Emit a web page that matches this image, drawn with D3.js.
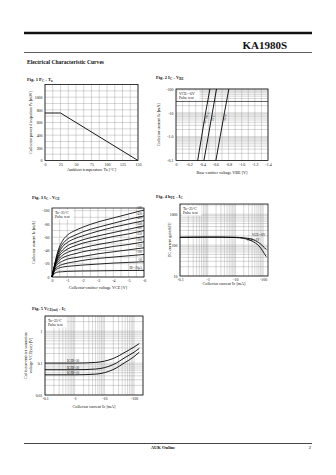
<!DOCTYPE html>
<html><head><meta charset="utf-8">
<script src="https://cdn.jsdelivr.net/npm/d3@7"></script>
<style>
html,body{margin:0;padding:0;background:#fff;}
svg text{font-family:"Liberation Serif","Times New Roman",serif;fill:#111;}
</style></head>
<body><svg id="page" width="336" height="475"></svg>
<script>
// ---- Fig.1 Pc - Ta (derating) ----
const tempTicks = [0, 25, 50, 75, 100, 125, 150];
const pcTicks = [0, 200, 400, 600, 800, 1000];
const pcCurve = [[0, 750], [25, 750], [150, 0]];

// ---- Fig.2 Ic - Vbe ----
const vbeTicks = [0, 0.2, 0.4, 0.6, 0.8, 1.0, 1.2, 1.4];
const vbeTickLabels = ["0", "-0.2", "-0.4", "-0.6", "-0.8", "-1.0", "-1.2", "-1.4"];
const icLogTicks = [0.1, 1, 10, 100];
const icLogLabels = ["-0.1", "-1.0", "-10", "-100"];
const vbeSeriesNames = ["Ta=100°C", "25°C", "-25°C"];
const vbeCurrents = [0.1, 1, 10, 100];
const vbeSeries = [
  [0.33, 0.39, 0.45, 0.516],
  [0.425, 0.49, 0.553, 0.617],
  [0.607, 0.672, 0.737, 0.804]
];

// ---- Fig.3 Ic - Vce ----
const vceTicks = [0, 1, 2, 3, 4, 5, 6];
const vceTickLabels = ["0", "-1", "-2", "-3", "-4", "-5", "-6"];
const icLinTicks = [0, 20, 40, 60, 80, 100];
const icLinLabels = ["0", "-20", "-40", "-60", "-80", "-100"];
const vceSteps = [0, 0.2, 0.4, 0.7, 1, 1.5, 2, 3, 4, 5, 6];
const ibNames = ["-500", "-450", "-400", "-350", "-300", "-250", "-200", "-150", "-100", "-50", "IB=-20μA"];
const vceSeries = [
  [0, 22, 40, 55, 63, 70, 75, 83, 89, 95, 101],
  [0, 21, 37, 50, 57, 63, 68, 75, 81, 87, 92],
  [0, 20, 34, 46, 52, 58, 62, 69, 75, 80, 85],
  [0, 19, 31, 41, 47, 52, 56, 62, 67, 72, 77],
  [0, 18, 29, 37, 42, 47, 51, 56, 61, 65, 70],
  [0, 17, 26, 33, 37, 41, 44, 49, 53, 57, 61],
  [0, 16, 23, 29, 32, 35, 38, 42, 46, 49, 53],
  [0, 14, 20, 24, 27, 29, 31, 35, 38, 41, 44],
  [0, 12, 16, 19, 21, 23, 25, 28, 30, 32, 34],
  [0, 10, 13, 15, 16, 17, 18, 19.5, 21, 22, 23],
  [0, 6, 7.5, 8, 8.5, 8.8, 9, 9.3, 9.6, 9.8, 10]
];

// ---- Fig.4 hFE - Ic ----
const icTicksA = [0.1, 1, 10, 100];
const icLabelsA = ["-0.1", "-1", "-10", "-100"];
const hfeTicks = [10, 100, 1000];
const hfeNames = ["VCE=-6V", "VCE=-1V"];
const hfeIc = [0.1, 0.3, 1, 3, 10, 20, 40, 70, 130];
const hfeSeries = [
  [180, 182, 183, 183, 180, 172, 155, 120, 72],
  [178, 179, 180, 180, 176, 165, 135, 95, 42]
];

// ---- Fig.5 Vce(sat) - Ic ----
const satTicks = [0.01, 0.1, 1];
const satLabels = ["0.01", "0.1", "1"];
const satNames = ["IC/IB=50", "IC/IB=20", "IC/IB=10"];
const satIc = [0.1, 1, 5, 10, 20, 50, 100, 150];
const satSeries = [
  [0.1, 0.1, 0.105, 0.115, 0.14, 0.22, 0.32, 0.41],
  [0.062, 0.062, 0.065, 0.072, 0.09, 0.15, 0.22, 0.29],
  [0.043, 0.043, 0.045, 0.05, 0.063, 0.105, 0.16, 0.22]
];

const svg = d3.select("#page");
svg.append("rect").attr("width", 336).attr("height", 475).attr("fill", "#fff");

// page header / footer
svg.append("line").attr("x1", 24).attr("x2", 312).attr("y1", 33).attr("y2", 33)
  .attr("stroke", "#111").attr("stroke-width", 2.6);
svg.append("text").attr("x", 287).attr("y", 48.5).attr("text-anchor", "end")
  .attr("font-size", 11).attr("font-weight", "bold").text("KA1980S");
svg.append("line").attr("x1", 24).attr("x2", 312).attr("y1", 52.5).attr("y2", 52.5)
  .attr("stroke", "#333").attr("stroke-width", 0.8);
svg.append("text").attr("x", 27).attr("y", 64).attr("font-size", 5.6).attr("font-weight", "bold")
  .text("Electrical Characteristic Curves");
svg.append("line").attr("x1", 24).attr("x2", 312).attr("y1", 443.5).attr("y2", 443.5)
  .attr("stroke", "#333").attr("stroke-width", 0.9);
svg.append("text").attr("x", 163).attr("y", 449).attr("text-anchor", "middle")
  .attr("font-size", 4.6).attr("font-weight", "bold").text("AUK Online");
svg.append("text").attr("x", 311).attr("y", 449).attr("text-anchor", "end")
  .attr("font-size", 4.6).text("2");

const GRID = "#8a8a8a";

function panel(o) {
  const g = svg.append("g");
  const x = o.x, y = o.y;
  // grid
  o.vgrid.forEach(v => g.append("line").attr("x1", x(v)).attr("x2", x(v))
    .attr("y1", y.range()[0]).attr("y2", y.range()[1]).attr("stroke", GRID).attr("stroke-width", 0.35));
  o.hgrid.forEach(v => g.append("line").attr("y1", y(v)).attr("y2", y(v))
    .attr("x1", x.range()[0]).attr("x2", x.range()[1]).attr("stroke", GRID).attr("stroke-width", 0.35));
  // frame
  g.append("rect").attr("x", x.range()[0]).attr("y", y.range()[1])
    .attr("width", x.range()[1] - x.range()[0]).attr("height", y.range()[0] - y.range()[1])
    .attr("fill", "none").attr("stroke", "#111").attr("stroke-width", 0.8);
  // tick labels
  const xa = d3.axisBottom(x).tickValues(o.xticks).tickFormat((d, i) => o.xlabels[i]).tickSize(0).tickPadding(2.5);
  g.append("g").attr("transform", `translate(0,${y.range()[0]})`).call(xa)
    .call(s => s.select(".domain").remove())
    .selectAll("text").attr("font-size", 3.9).attr("font-family", "Liberation Serif");
  const ya = d3.axisLeft(y).tickValues(o.yticks).tickFormat((d, i) => o.ylabels[i]).tickSize(0).tickPadding(2.5);
  g.append("g").attr("transform", `translate(${x.range()[0]},0)`).call(ya)
    .call(s => s.select(".domain").remove())
    .selectAll("text").attr("font-size", 3.9).attr("font-family", "Liberation Serif");
  // titles
  g.append("text").attr("x", o.title[0]).attr("y", o.title[1]).attr("font-size", 4.6)
    .attr("font-weight", "bold").html(o.title[2]);
  g.append("text").attr("x", (x.range()[0] + x.range()[1]) / 2).attr("y", o.xtitleY)
    .attr("text-anchor", "middle").attr("font-size", 4.2).html(o.xtitle);
  o.ytitle.forEach((t, i) => {
    const cx = o.ytitleX + i * 5, cy = (y.range()[0] + y.range()[1]) / 2;
    g.append("text").attr("transform", `translate(${cx},${cy}) rotate(-90)`)
      .attr("text-anchor", "middle").attr("font-size", 4.2).html(t);
  });
  if (o.legend) {
    const lx = x.range()[0] + 1.5, ly = y.range()[1] + 1.5;
    g.append("rect").attr("x", lx).attr("y", ly).attr("width", o.legend.w).attr("height", 10)
      .attr("fill", "#fff").attr("stroke", "none");
    o.legend.lines.forEach((t, i) => g.append("text").attr("x", lx + 1.5).attr("y", ly + 4 + i * 4.5)
      .attr("font-size", 3.8).html(t));
  }
  return g;
}

function range(a, b, s) { const r = []; for (let v = a; v <= b + 1e-9; v += s) r.push(+v.toFixed(6)); return r; }
function logGrid(lo, hi) {
  const r = [];
  for (let e = Math.floor(Math.log10(lo)); e <= Math.ceil(Math.log10(hi)); e++)
    for (let m = 1; m < 10; m++) { const v = m * Math.pow(10, e); if (v >= lo * 0.999 && v <= hi * 1.001) r.push(v); }
  return r;
}

// Fig.1
{
  const x = d3.scaleLinear().domain([0, 150]).range([45, 138]);
  const y = d3.scaleLinear().domain([0, 1200]).range([160.5, 84.5]);
  const g = panel({x, y, vgrid: range(0, 150, 12.5), hgrid: range(0, 1200, 100),
    xticks: tempTicks, xlabels: tempTicks.map(String), yticks: pcTicks, ylabels: pcTicks.map(String),
    title: [27, 81, "Fig. 1 P<tspan font-size='3.2' dy='1'>C</tspan><tspan dy='-1'> - T</tspan><tspan font-size='3.2' dy='1'>a</tspan>"],
    xtitle: "Ambient temperature  Ta [°C]", xtitleY: 170.5,
    ytitle: ["Collector power dissipation  Pc [mW]"], ytitleX: 32});
  g.append("path").datum(pcCurve).attr("fill", "none").attr("stroke", "#000").attr("stroke-width", 0.9)
    .attr("d", d3.line().x(d => x(d[0])).y(d => y(d[1])));
}

// Fig.2
{
  const x = d3.scaleLinear().domain([0, 1.4]).range([176, 268]);
  const y = d3.scaleLog().domain([0.1, 100]).range([160.5, 89]);
  const g = panel({x, y, vgrid: range(0, 1.4, 0.1), hgrid: logGrid(0.1, 100),
    xticks: vbeTicks, xlabels: vbeTickLabels, yticks: icLogTicks, ylabels: icLogLabels,
    title: [156, 79, "Fig. 2 I<tspan font-size='3.2' dy='1'>C</tspan><tspan dy='-1'> - V</tspan><tspan font-size='3.2' dy='1'>BE</tspan>"],
    xtitle: "Base-emitter voltage  VBE [V]", xtitleY: 174,
    ytitle: ["Collector current  Ic [mA]"], ytitleX: 160,
    legend: {w: 22, lines: ["VCE=-6V", "Pulse test"]}});
  g.append("line").attr("x1", 176).attr("x2", 268).attr("y1", y(30)).attr("y2", y(30))
    .attr("stroke", "#111").attr("stroke-width", 0.6);
  vbeSeries.forEach((s, k) => {
    const pts = s.map((v, i) => [v, vbeCurrents[i]]);
    g.append("path").datum(pts).attr("fill", "none").attr("stroke", "#000").attr("stroke-width", 0.9)
      .attr("d", d3.line().x(d => x(d[0])).y(d => y(d[1])));
    const px = x(d3.quantile(s, 0.6)) + 2.5, py = y(6);
    g.append("text").attr("transform", `translate(${px},${py}) rotate(-72)`)
      .attr("font-size", 3.2).attr("text-anchor", "middle").text(vbeSeriesNames[k]);
  });
}

// Fig.3
{
  const x = d3.scaleLinear().domain([0, 6]).range([52, 144]);
  const y = d3.scaleLinear().domain([0, 104]).range([277, 208]);
  const g = panel({x, y, vgrid: range(0, 6, 0.5), hgrid: range(0, 100, 10),
    xticks: vceTicks, xlabels: vceTickLabels, yticks: icLinTicks, ylabels: icLinLabels,
    title: [32, 199, "Fig. 3 I<tspan font-size='3.2' dy='1'>C</tspan><tspan dy='-1'> - V</tspan><tspan font-size='3.2' dy='1'>CE</tspan>"],
    xtitle: "Collector-emitter voltage  VCE [V]", xtitleY: 288.5,
    ytitle: ["Collector current  Ic [mA]"], ytitleX: 35,
    legend: {w: 20, lines: ["Ta=25°C", "Pulse test"]}});
  const line = d3.line().curve(d3.curveMonotoneX).x(d => x(d[0])).y(d => y(d[1]));
  vceSeries.forEach((s, k) => {
    const pts = s.map((v, i) => [vceSteps[i], v]);
    g.append("path").datum(pts).attr("fill", "none").attr("stroke", "#000").attr("stroke-width", 0.85).attr("d", line);
    g.append("text").attr("x", 142).attr("y", y(s[s.length - 1]) - 1.2).attr("text-anchor", "end")
      .attr("font-size", 3.0).text(ibNames[k]);
  });
}

// Fig.4
{
  const x = d3.scaleLog().domain([0.1, 150]).range([180, 268]);
  const y = d3.scaleLog().domain([10, 2150]).range([276, 204]);
  const g = panel({x, y, vgrid: logGrid(0.1, 150), hgrid: logGrid(10, 2000),
    xticks: icTicksA, xlabels: icLabelsA, yticks: hfeTicks, ylabels: hfeTicks.map(String),
    title: [156, 198, "Fig. 4 h<tspan font-size='3.2' dy='1'>FE</tspan><tspan dy='-1'> - I</tspan><tspan font-size='3.2' dy='1'>C</tspan>"],
    xtitle: "Collector current  Ic [mA]", xtitleY: 285,
    ytitle: ["DC current gain  hFE"], ytitleX: 170.5,
    legend: {w: 20, lines: ["Ta=25°C", "Pulse test"]}});
  const line = d3.line().curve(d3.curveMonotoneX).x(d => x(d[0])).y(d => y(d[1]));
  hfeSeries.forEach((s, k) => {
    const pts = s.map((v, i) => [hfeIc[i], v]);
    g.append("path").datum(pts).attr("fill", "none").attr("stroke", "#000").attr("stroke-width", 0.9).attr("d", line);
  });
  g.append("text").attr("x", x(40)).attr("y", y(200)).attr("font-size", 3.2).text(hfeNames[0]);
  g.append("text").attr("x", x(25)).attr("y", y(135)).attr("font-size", 3.2).text(hfeNames[1]);
}

// Fig.5
{
  const x = d3.scaleLog().domain([0.1, 200]).range([45, 143]);
  const y = d3.scaleLog().domain([0.01, 3]).range([395, 316]);
  const g = panel({x, y, vgrid: logGrid(0.1, 200), hgrid: logGrid(0.01, 3),
    xticks: [0.1, 1, 10, 100], xlabels: ["-0.1", "-1", "-10", "-100"], yticks: satTicks, ylabels: satLabels,
    title: [32, 310, "Fig. 5 V<tspan font-size='3.2' dy='1'>CE(sat)</tspan><tspan dy='-1'> - I</tspan><tspan font-size='3.2' dy='1'>C</tspan>"],
    xtitle: "Collector current  Ic [mA]", xtitleY: 408,
    ytitle: ["Collector-emitter saturation", "voltage  VCE(sat) [V]"], ytitleX: 27,
    legend: {w: 20, lines: ["Ta=25°C", "Pulse test"]}});
  const line = d3.line().curve(d3.curveMonotoneX).x(d => x(d[0])).y(d => y(d[1]));
  satSeries.forEach((s, k) => {
    const pts = s.map((v, i) => [satIc[i], v]);
    g.append("path").datum(pts).attr("fill", "none").attr("stroke", "#000").attr("stroke-width", 0.9).attr("d", line);
    g.append("text").attr("x", x(0.55)).attr("y", y(s[0]) - 1.2).attr("font-size", 3.2).text(satNames[k]);
  });
}
</script></body></html>
